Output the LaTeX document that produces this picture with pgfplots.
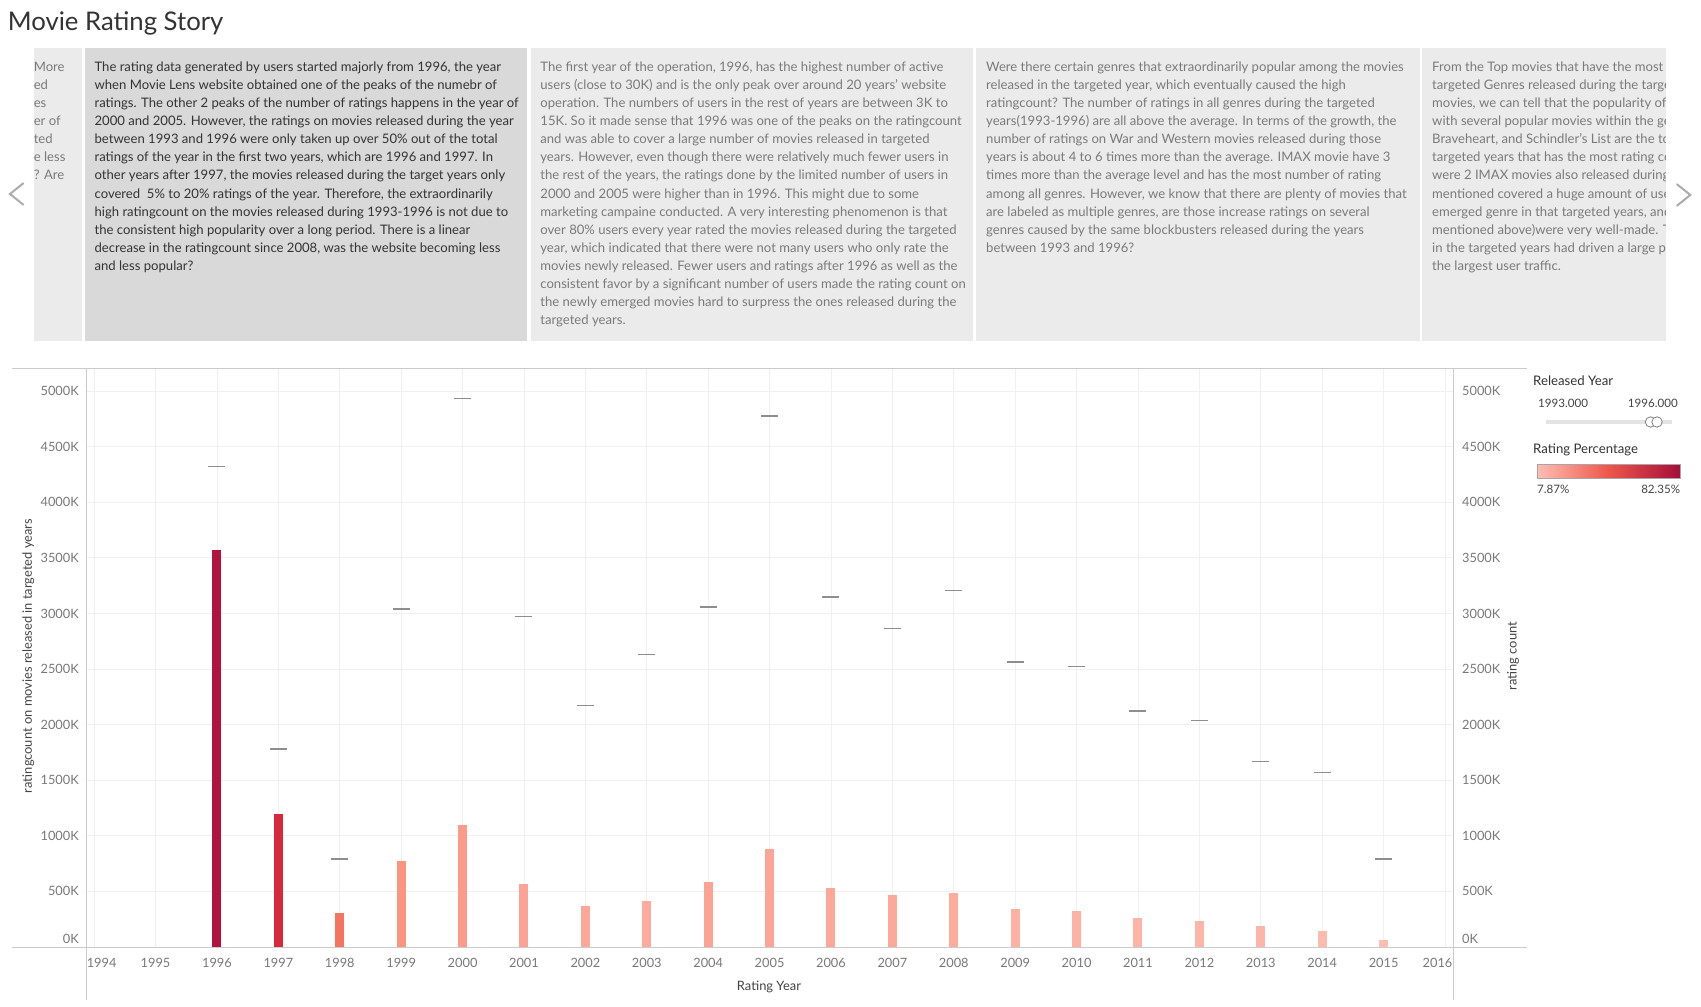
\documentclass[border=0pt]{standalone}
\usepackage{pgfplots}
\pgfplotsset{compat=1.18}
\usepackage{fontspec}
\setmainfont{Lato}
\definecolor{boxsel}{HTML}{D9D9D9}
\definecolor{boxbg}{HTML}{EBEBEB}
\definecolor{txtdark}{HTML}{333333}
\definecolor{txtgray}{HTML}{7A7A7A}
\definecolor{ticktxt}{HTML}{787878}
\definecolor{labtxt}{HTML}{444444}
\definecolor{gridc}{HTML}{F0F0F0}
\definecolor{axc}{HTML}{CBCBCB}
\definecolor{dashc}{HTML}{8E8E8E}
\definecolor{arrowc}{HTML}{ABABAB}
\definecolor{trackc}{HTML}{E3E3E3}
\definecolor{cmapL}{RGB}{255,190,178}
\definecolor{cmapM}{RGB}{236,86,76}
\definecolor{cmapD}{RGB}{165,15,58}
\definecolor{b1996}{RGB}{176,20,60}
\definecolor{b1997}{RGB}{214,42,60}
\definecolor{b1998}{RGB}{243,116,96}
\definecolor{b1999}{RGB}{250,149,128}
\definecolor{b2000}{RGB}{251,156,138}
\definecolor{b2001}{RGB}{252,163,147}
\definecolor{b2002}{RGB}{252,168,153}
\definecolor{b2003}{RGB}{252,171,156}
\definecolor{b2004}{RGB}{252,163,147}
\definecolor{b2005}{RGB}{252,164,149}
\definecolor{b2006}{RGB}{252,168,153}
\definecolor{b2007}{RGB}{252,169,154}
\definecolor{b2008}{RGB}{252,172,157}
\definecolor{b2009}{RGB}{253,177,163}
\definecolor{b2010}{RGB}{253,178,164}
\definecolor{b2011}{RGB}{253,179,166}
\definecolor{b2012}{RGB}{253,181,168}
\definecolor{b2013}{RGB}{253,181,168}
\definecolor{b2014}{RGB}{254,186,172}
\definecolor{b2015}{RGB}{255,190,176}
\pgfplotsset{
  barpt/.style={ybar, bar width=9pt, bar shift=0pt, draw=none, fill=#1},
}
\newcommand{\capfont}{\fontsize{13.1}{18.05}\selectfont}
\begin{document}
\begin{tikzpicture}[x=1pt,y=1pt]
\useasboundingbox (0,0) rectangle (1701,1007);
% title
\node[anchor=base west, inner sep=0pt, text=txtdark, font=\fontsize{25.7}{30}\selectfont] at (7.6,976.6) {Movie Rating Story};
% story boxes
\fill[boxbg] (33.6,666.4) rectangle (82.4,959.3);
\fill[boxsel] (84.6,666.4) rectangle (527.2,959.3);
\fill[boxbg] (530.5,666.4) rectangle (973,959.3);
\fill[boxbg] (976.3,666.4) rectangle (1420,959.3);
\fill[boxbg] (1422,666.4) rectangle (1665.6,959.3);
\begin{scope}
\clip (33.6,666.4) rectangle (82.4,959.3);
\node[anchor=north west, inner sep=0pt, align=left, text=txtgray, font=\capfont] at (33.6,948.5) {\rule{0pt}{13pt}More\\ed\\es\\er of\\ted\\e less\\? Are};
\end{scope}
\node[anchor=north west, inner sep=0pt, align=left, text=txtdark, font=\capfont] at (94.4,948.5) {\rule{0pt}{13pt}The rating data generated by users started majorly from 1996, the year\\
when Movie Lens website obtained one of the peaks of the numebr of\\
ratings. The other 2 peaks of the number of ratings happens in the year of\\
2000 and 2005. However, the ratings on movies released during the year\\
between 1993 and 1996 were only taken up over 50\% out of the total\\
ratings of the year in the first two years, which are 1996 and 1997. In\\
other years after 1997, the movies released during the target years only\\
covered\ \ 5\% to 20\% ratings of the year. Therefore, the extraordinarily\\
high ratingcount on the movies released during 1993-1996 is not due to\\
the consistent high popularity over a long period. There is a linear\\
decrease in the ratingcount since 2008, was the website becoming less\\
and less popular?};
\node[anchor=north west, inner sep=0pt, align=left, text=txtgray, font=\capfont] at (540.2,948.5) {\rule{0pt}{13pt}The first year of the operation, 1996, has the highest number of active\\
users (close to 30K) and is the only peak over around 20 years’ website\\
operation. The numbers of users in the rest of years are between 3K to\\
15K. So it made sense that 1996 was one of the peaks on the ratingcount\\
and was able to cover a large number of movies released in targeted\\
years. However, even though there were relatively much fewer users in\\
the rest of the years, the ratings done by the limited number of users in\\
2000 and 2005 were higher than in 1996. This might due to some\\
marketing campaine conducted. A very interesting phenomenon is that\\
over 80\% users every year rated the movies released during the targeted\\
year, which indicated that there were not many users who only rate the\\
movies newly released. Fewer users and ratings after 1996 as well as the\\
consistent favor by a significant number of users made the rating count on\\
the newly emerged movies hard to surpress the ones released during the\\
targeted years.};
\node[anchor=north west, inner sep=0pt, align=left, text=txtgray, font=\capfont] at (986,948.5) {\rule{0pt}{13pt}Were there certain genres that extraordinarily popular among the movies\\
released in the targeted year, which eventually caused the high\\
ratingcount? The number of ratings in all genres during the targeted\\
years(1993-1996) are all above the average. In terms of the growth, the\\
number of ratings on War and Western movies released during those\\
years is about 4 to 6 times more than the average. IMAX movie have 3\\
times more than the average level and has the most number of rating\\
among all genres. However, we know that there are plenty of movies that\\
are labeled as multiple genres, are those increase ratings on several\\
genres caused by the same blockbusters released during the years\\
between 1993 and 1996?};
\begin{scope}
\clip (1422,666.4) rectangle (1665.6,959.3);
\node[anchor=north west, inner sep=0pt, align=left, text=txtgray, font=\capfont] at (1432,948.5) {\rule{0pt}{13pt}From the Top movies that have the most\\
targeted Genres released during the targeted years\\
movies, we can tell that the popularity of\\
with several popular movies within the genre\\
Braveheart, and Schindler’s List are the top\\
targeted years that has the most rating count\\
were 2 IMAX movies also released during\\
mentioned covered a huge amount of users\\
emerged genre in that targeted years, and\\
mentioned above)were very well-made. The\\
in the targeted years had driven a large part\\
the largest user traffic.};
\end{scope}
% navigation arrows
\draw[arrowc, line width=2pt, line cap=round, line join=miter] (23.3,823.7)--(10,813)--(23.3,802.3);
\draw[arrowc, line width=2pt, line cap=round, line join=miter] (1677,822.7)--(1690.3,812)--(1677,801.3);
% main axis: bars
\begin{axis}[
  at={(86.8pt,60pt)}, anchor=south west,
  scale only axis, width=1366.8pt, height=578.2pt,
  xmin=1993.88, xmax=2016.14, ymin=0, ymax=5200,
  axis line style={draw=none},
  major tick length=0pt,
  xtick={1994,1995,1996,1997,1998,1999,2000,2001,2002,2003,2004,2005,2006,2007,2008,2009,2010,2011,2012,2013,2014,2015,2016},
  xticklabels={\hspace*{15pt}1994,1995,1996,1997,1998,1999,2000,2001,2002,2003,2004,2005,2006,2007,2008,2009,2010,2011,2012,2013,2014,2015,2016\hspace*{15pt}},
  ytick={0,500,1000,1500,2000,2500,3000,3500,4000,4500,5000},
  yticklabels={\raisebox{3.3pt}[0pt][0pt]{0K},500K,1000K,1500K,2000K,2500K,3000K,3500K,4000K,4500K,5000K},
  grid=major, grid style={gridc, line width=0.9pt},
  xticklabel style={font=\fontsize{12.8}{15}\selectfont, text=ticktxt, anchor=north, inner sep=0pt, yshift=-11.5pt},
  yticklabel style={font=\fontsize{12.8}{15}\selectfont, text=ticktxt, anchor=east, inner sep=0pt, xshift=-7.8pt},
  clip=false,
]
\addplot[barpt=b1996] coordinates {(1996,3569)};
\addplot[barpt=b1997] coordinates {(1997,1195)};
\addplot[barpt=b1998] coordinates {(1998,307)};
\addplot[barpt=b1999] coordinates {(1999,770)};
\addplot[barpt=b2000] coordinates {(2000,1101)};
\addplot[barpt=b2001] coordinates {(2001,569)};
\addplot[barpt=b2002] coordinates {(2002,370)};
\addplot[barpt=b2003] coordinates {(2003,416)};
\addplot[barpt=b2004] coordinates {(2004,587)};
\addplot[barpt=b2005] coordinates {(2005,877)};
\addplot[barpt=b2006] coordinates {(2006,533)};
\addplot[barpt=b2007] coordinates {(2007,470)};
\addplot[barpt=b2008] coordinates {(2008,488)};
\addplot[barpt=b2009] coordinates {(2009,343)};
\addplot[barpt=b2010] coordinates {(2010,325)};
\addplot[barpt=b2011] coordinates {(2011,262)};
\addplot[barpt=b2012] coordinates {(2012,235)};
\addplot[barpt=b2013] coordinates {(2013,190)};
\addplot[barpt=b2014] coordinates {(2014,145)};
\addplot[barpt=b2015] coordinates {(2015,63)};
\end{axis}
% secondary axis: rating count dashes
\begin{axis}[
  at={(86.8pt,60pt)}, anchor=south west,
  scale only axis, width=1366.8pt, height=578.2pt,
  xmin=1993.88, xmax=2016.14, ymin=0, ymax=5200,
  axis line style={draw=none},
  major tick length=0pt,
  xtick=\empty,
  ytick={0,500,1000,1500,2000,2500,3000,3500,4000,4500,5000},
  yticklabels={\raisebox{3.3pt}[0pt][0pt]{0K},500K,1000K,1500K,2000K,2500K,3000K,3500K,4000K,4500K,5000K},
  yticklabel pos=right,
  yticklabel style={font=\fontsize{12.8}{15}\selectfont, text=ticktxt, anchor=west, inner sep=0pt, xshift=8.4pt},
  clip=false,
]
\addplot[only marks, mark=-, mark size=8.5pt, mark options={draw=dashc, line width=1.6pt}] coordinates {
(1996,4322) (1997,1780) (1998,789) (1999,3041) (2000,4932) (2001,2973) (2002,2173)
(2003,2632) (2004,3060) (2005,4776) (2006,3148) (2007,2865) (2008,3207) (2009,2563)
(2010,2524) (2011,2125) (2012,2037) (2013,1667) (2014,1569) (2015,789)};
\end{axis}
% frame lines
\draw[axc, line width=0.9pt] (12,638.2)--(1527,638.2);
\draw[axc, line width=0.9pt] (12,60)--(1527,60);
\draw[axc, line width=0.9pt] (86.8,7)--(86.8,638.2);
\draw[axc, line width=0.9pt] (1453.6,7)--(1453.6,638.2);
% axis titles
\node[rotate=90, text=labtxt, font=\fontsize{12.9}{15}\selectfont, inner sep=0pt] at (28.2,351) {ratingcount on movies released in targeted years};
\node[rotate=90, text=labtxt, font=\fontsize{12.9}{15}\selectfont, inner sep=0pt] at (1513,351) {rating count};
\node[text=labtxt, font=\fontsize{12.9}{15}\selectfont, inner sep=0pt] at (769,20) {Rating Year};
% legend: released year filter
\node[anchor=west, inner sep=0pt, text=txtdark, font=\fontsize{13.2}{15}\selectfont] at (1533,626) {Released Year};
\node[anchor=west, inner sep=0pt, text=labtxt, font=\fontsize{11.6}{13}\selectfont] at (1538,603.5) {1993.000};
\node[anchor=east, inner sep=0pt, text=labtxt, font=\fontsize{11.6}{13}\selectfont] at (1678,603.5) {1996.000};
\draw[trackc, line width=4pt] (1546,585)--(1672,585);
\draw[gray, line width=0.8pt, fill=white] (1650.5,585) circle (5.2);
\draw[gray, line width=0.8pt, fill=white] (1657,585) circle (5.2);
% legend: rating percentage
\node[anchor=west, inner sep=0pt, text=txtdark, font=\fontsize{13.2}{15}\selectfont] at (1533,557) {Rating Percentage};
\shade[left color=cmapL, right color=cmapD, middle color=cmapM] (1537.2,528.6) rectangle (1680.4,542.7);
\draw[gray!70, line width=0.8pt] (1537.2,528.6) rectangle (1680.4,542.7);
\node[anchor=west, inner sep=0pt, text=labtxt, font=\fontsize{11.6}{13}\selectfont] at (1537,518) {7.87\%};
\node[anchor=east, inner sep=0pt, text=labtxt, font=\fontsize{11.6}{13}\selectfont] at (1680.4,518) {82.35\%};
\end{tikzpicture}
\end{document}
